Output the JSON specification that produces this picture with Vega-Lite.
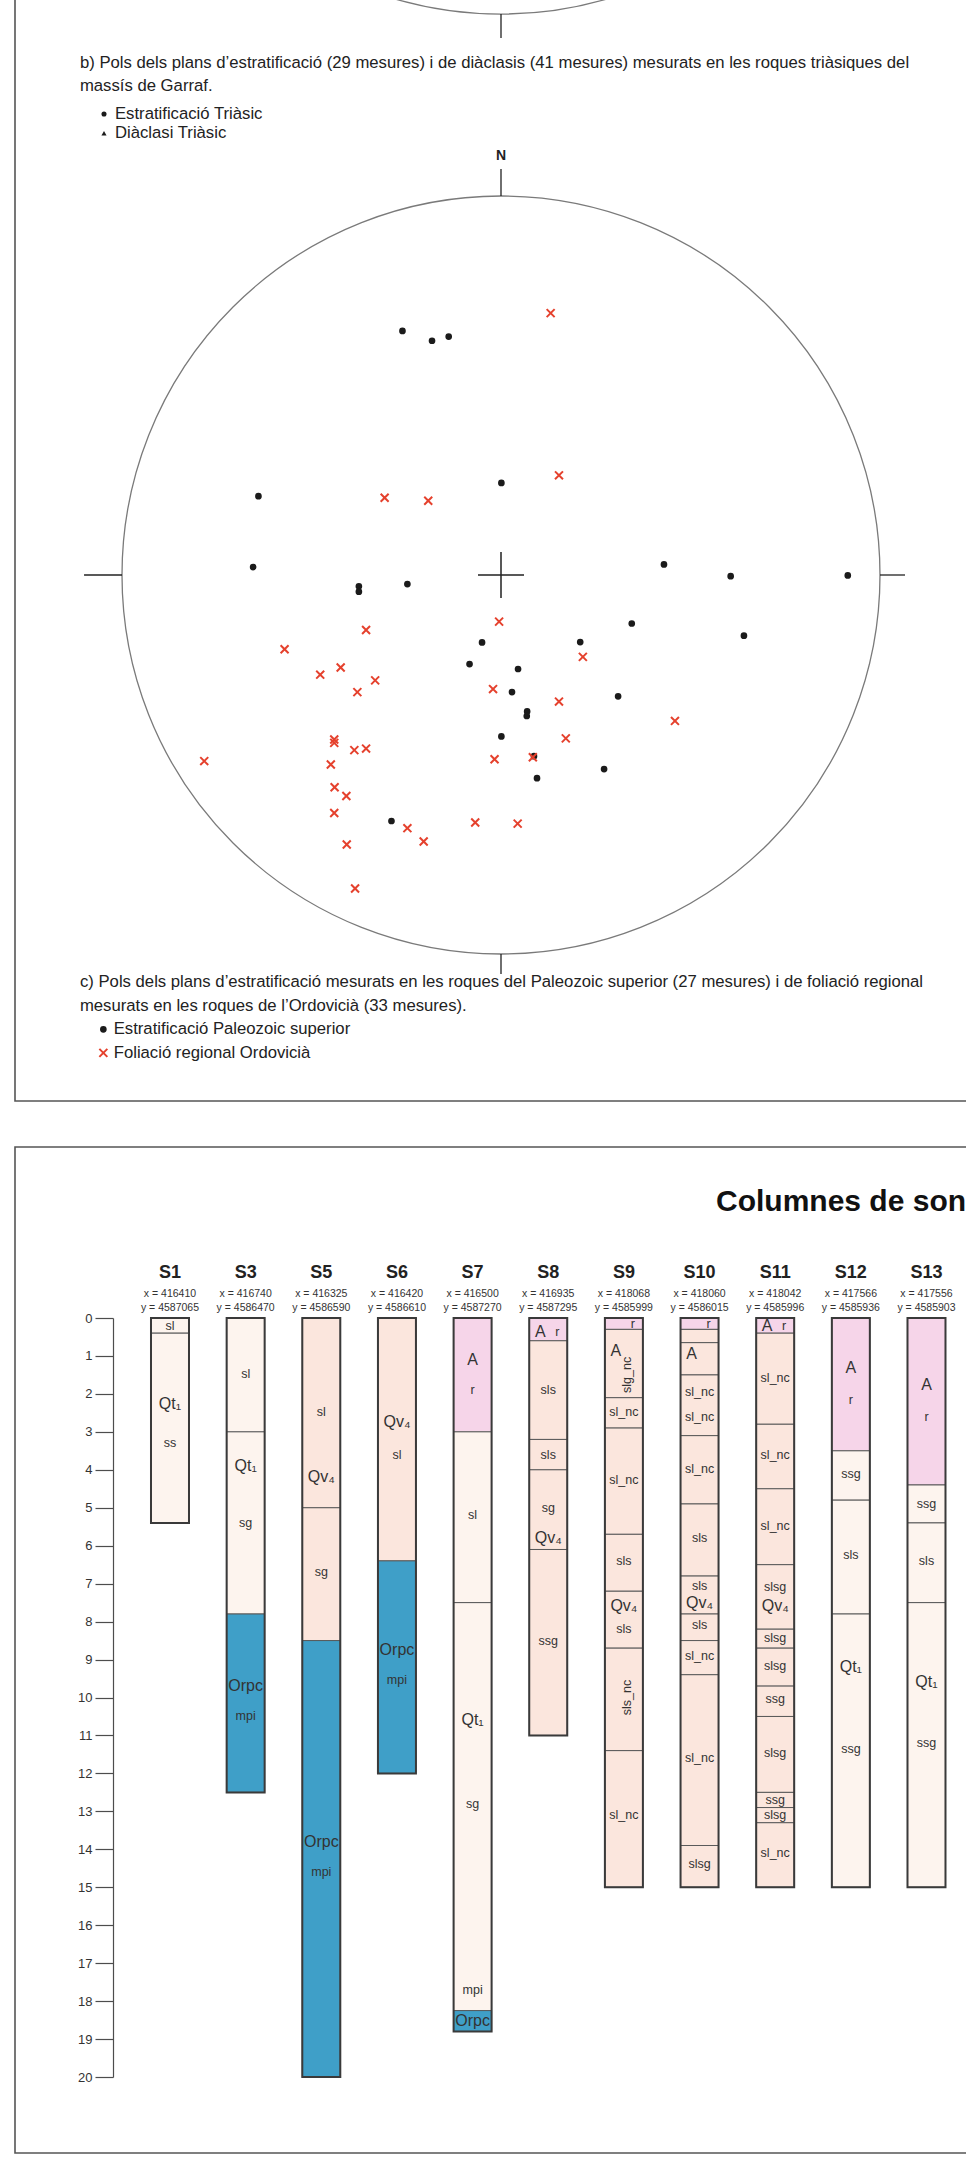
{
"$schema": "https://vega.github.io/schema/vega-lite/v6.json",
"background": "white",
"padding": {"left": 14, "top": -60, "right": -48, "bottom": 9},
"autosize": {"type": "pad"},
"spacing": 46,
"bounds": "flush",
"config": {"font": "Liberation Sans", "view": {"stroke": "#555555", "strokeWidth": 1.6}},
"datasets": {
"pols": [
{"x": -0.260, "y": 0.644, "t": "Estratificació Paleozoic superior"},
{"x": -0.182, "y": 0.618, "t": "Estratificació Paleozoic superior"},
{"x": -0.138, "y": 0.629, "t": "Estratificació Paleozoic superior"},
{"x": 0.001, "y": 0.243, "t": "Estratificació Paleozoic superior"},
{"x": -0.640, "y": 0.208, "t": "Estratificació Paleozoic superior"},
{"x": -0.654, "y": 0.021, "t": "Estratificació Paleozoic superior"},
{"x": -0.375, "y": -0.030, "t": "Estratificació Paleozoic superior"},
{"x": -0.375, "y": -0.044, "t": "Estratificació Paleozoic superior"},
{"x": -0.247, "y": -0.024, "t": "Estratificació Paleozoic superior"},
{"x": 0.430, "y": 0.028, "t": "Estratificació Paleozoic superior"},
{"x": 0.606, "y": -0.003, "t": "Estratificació Paleozoic superior"},
{"x": 0.915, "y": -0.001, "t": "Estratificació Paleozoic superior"},
{"x": 0.345, "y": -0.128, "t": "Estratificació Paleozoic superior"},
{"x": 0.641, "y": -0.160, "t": "Estratificació Paleozoic superior"},
{"x": -0.050, "y": -0.178, "t": "Estratificació Paleozoic superior"},
{"x": 0.209, "y": -0.177, "t": "Estratificació Paleozoic superior"},
{"x": -0.083, "y": -0.235, "t": "Estratificació Paleozoic superior"},
{"x": 0.045, "y": -0.248, "t": "Estratificació Paleozoic superior"},
{"x": 0.029, "y": -0.309, "t": "Estratificació Paleozoic superior"},
{"x": 0.309, "y": -0.320, "t": "Estratificació Paleozoic superior"},
{"x": 0.069, "y": -0.360, "t": "Estratificació Paleozoic superior"},
{"x": 0.068, "y": -0.372, "t": "Estratificació Paleozoic superior"},
{"x": 0.001, "y": -0.426, "t": "Estratificació Paleozoic superior"},
{"x": 0.087, "y": -0.478, "t": "Estratificació Paleozoic superior"},
{"x": 0.272, "y": -0.512, "t": "Estratificació Paleozoic superior"},
{"x": 0.095, "y": -0.536, "t": "Estratificació Paleozoic superior"},
{"x": -0.289, "y": -0.649, "t": "Estratificació Paleozoic superior"},
{"x": 0.131, "y": 0.691, "t": "Foliació regional Ordovicià"},
{"x": 0.153, "y": 0.263, "t": "Foliació regional Ordovicià"},
{"x": -0.307, "y": 0.204, "t": "Foliació regional Ordovicià"},
{"x": -0.192, "y": 0.196, "t": "Foliació regional Ordovicià"},
{"x": -0.005, "y": -0.123, "t": "Foliació regional Ordovicià"},
{"x": -0.356, "y": -0.145, "t": "Foliació regional Ordovicià"},
{"x": -0.571, "y": -0.196, "t": "Foliació regional Ordovicià"},
{"x": 0.216, "y": -0.216, "t": "Foliació regional Ordovicià"},
{"x": -0.423, "y": -0.244, "t": "Foliació regional Ordovicià"},
{"x": -0.477, "y": -0.263, "t": "Foliació regional Ordovicià"},
{"x": -0.332, "y": -0.278, "t": "Foliació regional Ordovicià"},
{"x": -0.379, "y": -0.309, "t": "Foliació regional Ordovicià"},
{"x": -0.021, "y": -0.301, "t": "Foliació regional Ordovicià"},
{"x": 0.153, "y": -0.334, "t": "Foliació regional Ordovicià"},
{"x": 0.459, "y": -0.385, "t": "Foliació regional Ordovicià"},
{"x": -0.440, "y": -0.434, "t": "Foliació regional Ordovicià"},
{"x": -0.440, "y": -0.443, "t": "Foliació regional Ordovicià"},
{"x": 0.171, "y": -0.431, "t": "Foliació regional Ordovicià"},
{"x": -0.387, "y": -0.462, "t": "Foliació regional Ordovicià"},
{"x": -0.356, "y": -0.458, "t": "Foliació regional Ordovicià"},
{"x": -0.017, "y": -0.486, "t": "Foliació regional Ordovicià"},
{"x": 0.084, "y": -0.481, "t": "Foliació regional Ordovicià"},
{"x": -0.783, "y": -0.491, "t": "Foliació regional Ordovicià"},
{"x": -0.449, "y": -0.500, "t": "Foliació regional Ordovicià"},
{"x": -0.439, "y": -0.560, "t": "Foliació regional Ordovicià"},
{"x": -0.408, "y": -0.583, "t": "Foliació regional Ordovicià"},
{"x": -0.440, "y": -0.628, "t": "Foliació regional Ordovicià"},
{"x": -0.068, "y": -0.653, "t": "Foliació regional Ordovicià"},
{"x": 0.044, "y": -0.656, "t": "Foliació regional Ordovicià"},
{"x": -0.247, "y": -0.668, "t": "Foliació regional Ordovicià"},
{"x": -0.204, "y": -0.703, "t": "Foliació regional Ordovicià"},
{"x": -0.407, "y": -0.711, "t": "Foliació regional Ordovicià"},
{"x": -0.385, "y": -0.827, "t": "Foliació regional Ordovicià"}
],
"capes": [
{"s": "S1", "top": 0, "base": 0.4, "u": "Qt1"},
{"s": "S1", "top": 0.4, "base": 5.4, "u": "Qt1"},
{"s": "S3", "top": 0, "base": 3, "u": "Qt1"},
{"s": "S3", "top": 3, "base": 7.8, "u": "Qt1"},
{"s": "S3", "top": 7.8, "base": 12.5, "u": "Orpc"},
{"s": "S5", "top": 0, "base": 5, "u": "Qv4"},
{"s": "S5", "top": 5, "base": 8.5, "u": "Qv4"},
{"s": "S5", "top": 8.5, "base": 20, "u": "Orpc"},
{"s": "S6", "top": 0, "base": 6.4, "u": "Qv4"},
{"s": "S6", "top": 6.4, "base": 12, "u": "Orpc"},
{"s": "S7", "top": 0, "base": 3, "u": "A"},
{"s": "S7", "top": 3, "base": 7.5, "u": "Qt1"},
{"s": "S7", "top": 7.5, "base": 18.25, "u": "Qt1"},
{"s": "S7", "top": 18.25, "base": 18.8, "u": "Orpc"},
{"s": "S8", "top": 0, "base": 0.6, "u": "A"},
{"s": "S8", "top": 0.6, "base": 3.2, "u": "Qv4"},
{"s": "S8", "top": 3.2, "base": 4.0, "u": "Qv4"},
{"s": "S8", "top": 4.0, "base": 6.1, "u": "Qv4"},
{"s": "S8", "top": 6.1, "base": 11, "u": "Qv4"},
{"s": "S9", "top": 0, "base": 0.3, "u": "A"},
{"s": "S9", "top": 0.3, "base": 2.1, "u": "Qv4"},
{"s": "S9", "top": 2.1, "base": 2.9, "u": "Qv4"},
{"s": "S9", "top": 2.9, "base": 5.7, "u": "Qv4"},
{"s": "S9", "top": 5.7, "base": 7.2, "u": "Qv4"},
{"s": "S9", "top": 7.2, "base": 8.7, "u": "Qv4"},
{"s": "S9", "top": 8.7, "base": 11.4, "u": "Qv4"},
{"s": "S9", "top": 11.4, "base": 15, "u": "Qv4"},
{"s": "S10", "top": 0, "base": 0.3, "u": "A"},
{"s": "S10", "top": 0.3, "base": 0.65, "u": "Qv4"},
{"s": "S10", "top": 0.65, "base": 1.5, "u": "Qv4"},
{"s": "S10", "top": 1.5, "base": 3.1, "u": "Qv4"},
{"s": "S10", "top": 3.1, "base": 4.9, "u": "Qv4"},
{"s": "S10", "top": 4.9, "base": 6.8, "u": "Qv4"},
{"s": "S10", "top": 6.8, "base": 7.8, "u": "Qv4"},
{"s": "S10", "top": 7.8, "base": 8.5, "u": "Qv4"},
{"s": "S10", "top": 8.5, "base": 9.4, "u": "Qv4"},
{"s": "S10", "top": 9.4, "base": 13.9, "u": "Qv4"},
{"s": "S10", "top": 13.9, "base": 15, "u": "Qv4"},
{"s": "S11", "top": 0, "base": 0.4, "u": "A"},
{"s": "S11", "top": 0.4, "base": 2.8, "u": "Qv4"},
{"s": "S11", "top": 2.8, "base": 4.5, "u": "Qv4"},
{"s": "S11", "top": 4.5, "base": 6.5, "u": "Qv4"},
{"s": "S11", "top": 6.5, "base": 8.2, "u": "Qv4"},
{"s": "S11", "top": 8.2, "base": 8.7, "u": "Qv4"},
{"s": "S11", "top": 8.7, "base": 9.7, "u": "Qv4"},
{"s": "S11", "top": 9.7, "base": 10.5, "u": "Qv4"},
{"s": "S11", "top": 10.5, "base": 12.5, "u": "Qv4"},
{"s": "S11", "top": 12.5, "base": 12.9, "u": "Qv4"},
{"s": "S11", "top": 12.9, "base": 13.3, "u": "Qv4"},
{"s": "S11", "top": 13.3, "base": 15, "u": "Qv4"},
{"s": "S12", "top": 0, "base": 3.5, "u": "A"},
{"s": "S12", "top": 3.5, "base": 4.8, "u": "Qt1"},
{"s": "S12", "top": 4.8, "base": 7.8, "u": "Qt1"},
{"s": "S12", "top": 7.8, "base": 15, "u": "Qt1"},
{"s": "S13", "top": 0, "base": 4.4, "u": "A"},
{"s": "S13", "top": 4.4, "base": 5.4, "u": "Qt1"},
{"s": "S13", "top": 5.4, "base": 7.5, "u": "Qt1"},
{"s": "S13", "top": 7.5, "base": 15, "u": "Qt1"}
],
"sondeigs": [
{"s": "S1", "inici": 0, "fondaria": 5.4, "cx": "x = 416410", "cy": "y = 4587065"},
{"s": "S3", "inici": 0, "fondaria": 12.5, "cx": "x = 416740", "cy": "y = 4586470"},
{"s": "S5", "inici": 0, "fondaria": 20, "cx": "x = 416325", "cy": "y = 4586590"},
{"s": "S6", "inici": 0, "fondaria": 12, "cx": "x = 416420", "cy": "y = 4586610"},
{"s": "S7", "inici": 0, "fondaria": 18.8, "cx": "x = 416500", "cy": "y = 4587270"},
{"s": "S8", "inici": 0, "fondaria": 11, "cx": "x = 416935", "cy": "y = 4587295"},
{"s": "S9", "inici": 0, "fondaria": 15, "cx": "x = 418068", "cy": "y = 4585999"},
{"s": "S10", "inici": 0, "fondaria": 15, "cx": "x = 418060", "cy": "y = 4586015"},
{"s": "S11", "inici": 0, "fondaria": 15, "cx": "x = 418042", "cy": "y = 4585996"},
{"s": "S12", "inici": 0, "fondaria": 15, "cx": "x = 417566", "cy": "y = 4585936"},
{"s": "S13", "inici": 0, "fondaria": 15, "cx": "x = 417556", "cy": "y = 4585903"}
],
"etiquetes": [
{"s": "S1", "d": 0.2, "t": "sl", "k": "p"},
{"s": "S1", "d": 2.27, "t": "Qt₁", "k": "g"},
{"s": "S1", "d": 3.3, "t": "ss", "k": "p"},
{"s": "S3", "d": 1.48, "t": "sl", "k": "p"},
{"s": "S3", "d": 3.9, "t": "Qt₁", "k": "g"},
{"s": "S3", "d": 5.4, "t": "sg", "k": "p"},
{"s": "S3", "d": 9.7, "t": "Orpc", "k": "g"},
{"s": "S3", "d": 10.5, "t": "mpi", "k": "p"},
{"s": "S5", "d": 2.48, "t": "sl", "k": "p"},
{"s": "S5", "d": 4.2, "t": "Qv₄", "k": "g"},
{"s": "S5", "d": 6.7, "t": "sg", "k": "p"},
{"s": "S5", "d": 13.8, "t": "Orpc", "k": "g"},
{"s": "S5", "d": 14.6, "t": "mpi", "k": "p"},
{"s": "S6", "d": 2.75, "t": "Qv₄", "k": "g"},
{"s": "S6", "d": 3.6, "t": "sl", "k": "p"},
{"s": "S6", "d": 8.75, "t": "Orpc", "k": "g"},
{"s": "S6", "d": 9.55, "t": "mpi", "k": "p"},
{"s": "S7", "d": 1.1, "t": "A", "k": "g"},
{"s": "S7", "d": 1.9, "t": "r", "k": "p"},
{"s": "S7", "d": 5.2, "t": "sl", "k": "p"},
{"s": "S7", "d": 10.6, "t": "Qt₁", "k": "g"},
{"s": "S7", "d": 12.8, "t": "sg", "k": "p"},
{"s": "S7", "d": 17.7, "t": "mpi", "k": "p"},
{"s": "S7", "d": 18.52, "t": "Orpc", "k": "g"},
{"s": "S8", "d": 0.36, "t": "A", "k": "gl"},
{"s": "S8", "d": 0.36, "t": "r", "k": "pr"},
{"s": "S8", "d": 1.9, "t": "sls", "k": "p"},
{"s": "S8", "d": 3.6, "t": "sls", "k": "p"},
{"s": "S8", "d": 5.0, "t": "sg", "k": "p"},
{"s": "S8", "d": 5.8, "t": "Qv₄", "k": "g"},
{"s": "S8", "d": 8.5, "t": "ssg", "k": "p"},
{"s": "S9", "d": 0.15, "t": "r", "k": "pr"},
{"s": "S9", "d": 0.87, "t": "A", "k": "gl"},
{"s": "S9", "d": 1.5, "t": "slg_nc", "k": "v"},
{"s": "S9", "d": 2.48, "t": "sl_nc", "k": "p"},
{"s": "S9", "d": 4.27, "t": "sl_nc", "k": "p"},
{"s": "S9", "d": 6.4, "t": "sls", "k": "p"},
{"s": "S9", "d": 7.6, "t": "Qv₄", "k": "g"},
{"s": "S9", "d": 8.2, "t": "sls", "k": "p"},
{"s": "S9", "d": 10.0, "t": "sls_nc", "k": "v"},
{"s": "S9", "d": 13.1, "t": "sl_nc", "k": "p"},
{"s": "S10", "d": 0.15, "t": "r", "k": "pr"},
{"s": "S10", "d": 0.95, "t": "A", "k": "gl"},
{"s": "S10", "d": 1.95, "t": "sl_nc", "k": "p"},
{"s": "S10", "d": 2.6, "t": "sl_nc", "k": "p"},
{"s": "S10", "d": 3.98, "t": "sl_nc", "k": "p"},
{"s": "S10", "d": 5.8, "t": "sls", "k": "p"},
{"s": "S10", "d": 7.07, "t": "sls", "k": "p"},
{"s": "S10", "d": 7.5, "t": "Qv₄", "k": "g"},
{"s": "S10", "d": 8.1, "t": "sls", "k": "p"},
{"s": "S10", "d": 8.9, "t": "sl_nc", "k": "p"},
{"s": "S10", "d": 11.6, "t": "sl_nc", "k": "p"},
{"s": "S10", "d": 14.4, "t": "slsg", "k": "p"},
{"s": "S11", "d": 0.22, "t": "A", "k": "gl"},
{"s": "S11", "d": 0.22, "t": "r", "k": "pr"},
{"s": "S11", "d": 1.57, "t": "sl_nc", "k": "p"},
{"s": "S11", "d": 3.6, "t": "sl_nc", "k": "p"},
{"s": "S11", "d": 5.47, "t": "sl_nc", "k": "p"},
{"s": "S11", "d": 7.1, "t": "slsg", "k": "p"},
{"s": "S11", "d": 7.6, "t": "Qv₄", "k": "g"},
{"s": "S11", "d": 8.43, "t": "slsg", "k": "p"},
{"s": "S11", "d": 9.16, "t": "slsg", "k": "p"},
{"s": "S11", "d": 10.05, "t": "ssg", "k": "p"},
{"s": "S11", "d": 11.45, "t": "slsg", "k": "p"},
{"s": "S11", "d": 12.7, "t": "ssg", "k": "p"},
{"s": "S11", "d": 13.1, "t": "slsg", "k": "p"},
{"s": "S11", "d": 14.1, "t": "sl_nc", "k": "p"},
{"s": "S12", "d": 1.33, "t": "A", "k": "g"},
{"s": "S12", "d": 2.15, "t": "r", "k": "p"},
{"s": "S12", "d": 4.1, "t": "ssg", "k": "p"},
{"s": "S12", "d": 6.25, "t": "sls", "k": "p"},
{"s": "S12", "d": 9.2, "t": "Qt₁", "k": "g"},
{"s": "S12", "d": 11.35, "t": "ssg", "k": "p"},
{"s": "S13", "d": 1.77, "t": "A", "k": "g"},
{"s": "S13", "d": 2.6, "t": "r", "k": "p"},
{"s": "S13", "d": 4.9, "t": "ssg", "k": "p"},
{"s": "S13", "d": 6.4, "t": "sls", "k": "p"},
{"s": "S13", "d": 9.6, "t": "Qt₁", "k": "g"},
{"s": "S13", "d": 11.2, "t": "ssg", "k": "p"}
]
},
"vconcat": [
{
"width": 1000,
"height": 1160,
"layer": [
{"data": {"values": [{}]}, "mark": {"type": "point", "shape": "circle", "size": 574564, "filled": false, "stroke": "#7a7a7a", "strokeWidth": 1.3, "opacity": 1, "clip": true},
 "encoding": {"x": {"datum": 0, "type": "quantitative", "scale": {"domain": [-1, 1], "range": [107, 865], "nice": false, "zero": false}, "axis": null},
              "y": {"datum": 2.48, "type": "quantitative", "scale": {"domain": [-1, 1], "range": [1013, 255], "nice": false, "zero": false}, "axis": null}}},
{"data": {"values": [{}]}, "mark": {"type": "point", "shape": "circle", "size": 574564, "filled": false, "stroke": "#7a7a7a", "strokeWidth": 1.3, "opacity": 1},
 "encoding": {"x": {"datum": 0, "type": "quantitative"}, "y": {"datum": 0, "type": "quantitative"}}},
{"data": {"values": [{}]}, "mark": {"type": "point", "shape": "M0,-1L0,1", "size": 576, "filled": false, "stroke": "#222222", "strokeWidth": 1.3, "opacity": 1},
 "encoding": {"x": {"datum": 0, "type": "quantitative"}, "y": {"datum": 1.4485, "type": "quantitative"}}},
{"data": {"values": [{}]}, "mark": {"type": "point", "shape": "M0,-1L0,1", "size": 729, "filled": false, "stroke": "#222222", "strokeWidth": 1.3, "opacity": 1},
 "encoding": {"x": {"datum": 0, "type": "quantitative"}, "y": {"datum": 1.0356, "type": "quantitative"}}},
{"data": {"values": [{}]}, "mark": {"type": "point", "shape": "M0,-1L0,1", "size": 400, "filled": false, "stroke": "#222222", "strokeWidth": 1.3, "opacity": 1},
 "encoding": {"x": {"datum": 0, "type": "quantitative"}, "y": {"datum": -1.0264, "type": "quantitative"}}},
{"data": {"values": [{}]}, "mark": {"type": "point", "shape": "M-1,0L1,0", "size": 1444, "filled": false, "stroke": "#222222", "strokeWidth": 1.3, "opacity": 1},
 "encoding": {"x": {"datum": -1.05, "type": "quantitative"}, "y": {"datum": 0, "type": "quantitative"}}},
{"data": {"values": [{}]}, "mark": {"type": "point", "shape": "M-1,0L1,0", "size": 625, "filled": false, "stroke": "#222222", "strokeWidth": 1.3, "opacity": 1},
 "encoding": {"x": {"datum": 1.033, "type": "quantitative"}, "y": {"datum": 0, "type": "quantitative"}}},
{"data": {"values": [{}]}, "mark": {"type": "point", "shape": "M-1,0L1,0M0,-1L0,1", "size": 2116, "filled": false, "stroke": "#222222", "strokeWidth": 1.5, "opacity": 1},
 "encoding": {"x": {"datum": 0, "type": "quantitative"}, "y": {"datum": 0, "type": "quantitative"}}},
{"data": {"name": "pols"}, "mark": {"type": "point", "opacity": 1, "strokeWidth": 2, "size": 22},
 "encoding": {
  "x": {"field": "x", "type": "quantitative"},
  "y": {"field": "y", "type": "quantitative"},
  "shape": {"field": "t", "type": "nominal", "scale": {"domain": ["Estratificació Paleozoic superior", "Foliació regional Ordovicià"], "range": ["circle", "M-1.7,-1.7L1.7,1.7M-1.7,1.7L1.7,-1.7"]},
            "legend": {"title": null, "orient": "none", "legendX": 80, "legendY": 1080, "padding": 0, "rowPadding": 5.5, "labelOffset": 2, "labelLimit": 0, "labelFontSize": 16.7, "labelFont": "Liberation Sans", "labelColor": "#222222", "symbolStrokeWidth": 2, "symbolSize": 22}},
  "fill": {"field": "t", "type": "nominal", "scale": {"domain": ["Estratificació Paleozoic superior", "Foliació regional Ordovicià"], "range": ["#1b1b1b", "transparent"]},
            "legend": {"title": null, "orient": "none", "legendX": 80, "legendY": 1080, "padding": 0, "rowPadding": 5.5, "labelOffset": 2, "labelLimit": 0, "labelFontSize": 16.7, "labelFont": "Liberation Sans", "labelColor": "#222222", "symbolStrokeWidth": 2, "symbolSize": 22}},
  "stroke": {"field": "t", "type": "nominal", "scale": {"domain": ["Estratificació Paleozoic superior", "Foliació regional Ordovicià"], "range": ["#1b1b1b", "#e5412d"]},
            "legend": {"title": null, "orient": "none", "legendX": 80, "legendY": 1080, "padding": 0, "rowPadding": 5.5, "labelOffset": 2, "labelLimit": 0, "labelFontSize": 16.7, "labelFont": "Liberation Sans", "labelColor": "#222222", "symbolStrokeWidth": 2, "symbolSize": 22}}
 }},
{"data": {"values": [{}]}, "mark": {"type": "text", "align": "left", "baseline": "middle", "fontSize": 16.7, "color": "#222222", "text": "b) Pols dels plans d’estratificació (29 mesures) i de diàclasis (41 mesures) mesurats en les roques triàsiques del"},
 "encoding": {"x": {"datum": -1.111, "type": "quantitative"}, "y": {"datum": 1.351, "type": "quantitative"}}},
{"data": {"values": [{}]}, "mark": {"type": "text", "align": "left", "baseline": "middle", "fontSize": 16.7, "color": "#222222", "text": "massís de Garraf."},
 "encoding": {"x": {"datum": -1.111, "type": "quantitative"}, "y": {"datum": 1.2892, "type": "quantitative"}}},
{"data": {"values": [{}]}, "mark": {"type": "point", "shape": "circle", "size": 26, "filled": true, "color": "#1b1b1b", "opacity": 1},
 "encoding": {"x": {"datum": -1.0475, "type": "quantitative"}, "y": {"datum": 1.2164, "type": "quantitative"}}},
{"data": {"values": [{}]}, "mark": {"type": "point", "shape": "triangle-up", "size": 26, "filled": true, "color": "#1b1b1b", "opacity": 1},
 "encoding": {"x": {"datum": -1.0475, "type": "quantitative"}, "y": {"datum": 1.1654, "type": "quantitative"}}},
{"data": {"values": [{}]}, "mark": {"type": "text", "align": "left", "baseline": "middle", "fontSize": 16.7, "color": "#222222", "text": "Estratificació Triàsic"},
 "encoding": {"x": {"datum": -1.0185, "type": "quantitative"}, "y": {"datum": 1.2164, "type": "quantitative"}}},
{"data": {"values": [{}]}, "mark": {"type": "text", "align": "left", "baseline": "middle", "fontSize": 16.7, "color": "#222222", "text": "Diàclasi Triàsic"},
 "encoding": {"x": {"datum": -1.0185, "type": "quantitative"}, "y": {"datum": 1.1654, "type": "quantitative"}}},
{"data": {"values": [{}]}, "mark": {"type": "text", "align": "center", "baseline": "middle", "fontSize": 14, "fontWeight": "bold", "color": "#222222", "text": "N"},
 "encoding": {"x": {"datum": 0, "type": "quantitative"}, "y": {"datum": 1.1055, "type": "quantitative"}}},
{"data": {"values": [{}]}, "mark": {"type": "text", "align": "left", "baseline": "middle", "fontSize": 16.7, "color": "#222222", "text": "c) Pols dels plans d’estratificació mesurats en les roques del Paleozoic superior (27 mesures) i de foliació regional"},
 "encoding": {"x": {"datum": -1.111, "type": "quantitative"}, "y": {"datum": -1.0739, "type": "quantitative"}}},
{"data": {"values": [{}]}, "mark": {"type": "text", "align": "left", "baseline": "middle", "fontSize": 16.7, "color": "#222222", "text": "mesurats en les roques de l’Ordovicià (33 mesures)."},
 "encoding": {"x": {"datum": -1.111, "type": "quantitative"}, "y": {"datum": -1.1362, "type": "quantitative"}}}
]
},
{
"width": 1000,
"height": 1006,
"title": {"text": "Columnes de sondeigs", "anchor": "start", "frame": "group", "dx": 701, "offset": -70, "fontSize": 30, "font": "Liberation Sans", "fontWeight": "bold", "color": "#111111"},
"layer": [
{"data": {"name": "capes"}, "mark": {"type": "bar", "stroke": "#5a5a5a", "strokeWidth": 1, "opacity": 1},
 "encoding": {
  "x": {"field": "s", "type": "nominal", "scale": {"type": "band", "domain": ["S1", "S3", "S5", "S6", "S7", "S8", "S9", "S10", "S11", "S12", "S13"], "range": [117.17, 949.32], "paddingInner": 0.4977, "paddingOuter": 0.24885}, "axis": null},
  "y": {"field": "top", "type": "quantitative", "scale": {"domain": [0, 20], "range": [171, 930], "nice": false, "zero": false},
        "axis": {"values": [0,1,2,3,4,5,6,7,8,9,10,11,12,13,14,15,16,17,18,19,20], "offset": -98, "tickSize": 18, "labelPadding": 3, "title": null, "grid": false, "domainColor": "#4d4d4d", "tickColor": "#4d4d4d", "domainWidth": 1.2, "tickWidth": 1.2, "labelFontSize": 13, "labelFont": "Liberation Sans", "labelColor": "#333333"}},
  "y2": {"field": "base"},
  "color": {"field": "u", "type": "nominal", "scale": {"domain": ["A", "Qt1", "Qv4", "Orpc"], "range": ["#f6d5e9", "#fdf4ee", "#fbe6dd", "#3f9fc8"]}, "legend": null}
 }},
{"data": {"name": "sondeigs"}, "mark": {"type": "bar", "fillOpacity": 0, "stroke": "#3a3a3a", "strokeWidth": 2},
 "encoding": {"x": {"field": "s", "type": "nominal"}, "y": {"field": "inici", "type": "quantitative"}, "y2": {"field": "fondaria"}}},
{"data": {"name": "sondeigs"}, "mark": {"type": "text", "baseline": "middle", "fontSize": 18, "fontWeight": "bold", "color": "#222222", "dy": -45},
 "encoding": {"x": {"field": "s", "type": "nominal"}, "y": {"field": "inici", "type": "quantitative"}, "text": {"field": "s", "type": "nominal"}}},
{"data": {"name": "sondeigs"}, "mark": {"type": "text", "baseline": "middle", "fontSize": 10.5, "color": "#333333", "dy": -24},
 "encoding": {"x": {"field": "s", "type": "nominal"}, "y": {"field": "inici", "type": "quantitative"}, "text": {"field": "cx", "type": "nominal"}}},
{"data": {"name": "sondeigs"}, "mark": {"type": "text", "baseline": "middle", "fontSize": 10.5, "color": "#333333", "dy": -10},
 "encoding": {"x": {"field": "s", "type": "nominal"}, "y": {"field": "inici", "type": "quantitative"}, "text": {"field": "cy", "type": "nominal"}}},
{"data": {"name": "etiquetes"}, "transform": [{"filter": "datum.k == 'g'"}], "mark": {"type": "text", "baseline": "middle", "fontSize": 16, "color": "#333333"},
 "encoding": {"x": {"field": "s", "type": "nominal"}, "y": {"field": "d", "type": "quantitative"}, "text": {"field": "t", "type": "nominal"}}},
{"data": {"name": "etiquetes"}, "transform": [{"filter": "datum.k == 'p'"}], "mark": {"type": "text", "baseline": "middle", "fontSize": 12.5, "color": "#333333"},
 "encoding": {"x": {"field": "s", "type": "nominal"}, "y": {"field": "d", "type": "quantitative"}, "text": {"field": "t", "type": "nominal"}}},
{"data": {"name": "etiquetes"}, "transform": [{"filter": "datum.k == 'gl'"}], "mark": {"type": "text", "baseline": "middle", "fontSize": 16, "color": "#333333", "dx": -8},
 "encoding": {"x": {"field": "s", "type": "nominal"}, "y": {"field": "d", "type": "quantitative"}, "text": {"field": "t", "type": "nominal"}}},
{"data": {"name": "etiquetes"}, "transform": [{"filter": "datum.k == 'pr'"}], "mark": {"type": "text", "baseline": "middle", "fontSize": 12.5, "color": "#333333", "dx": 9},
 "encoding": {"x": {"field": "s", "type": "nominal"}, "y": {"field": "d", "type": "quantitative"}, "text": {"field": "t", "type": "nominal"}}},
{"data": {"name": "etiquetes"}, "transform": [{"filter": "datum.k == 'v'"}], "mark": {"type": "text", "baseline": "middle", "fontSize": 12.5, "color": "#333333", "angle": 270, "dy": 3},
 "encoding": {"x": {"field": "s", "type": "nominal"}, "y": {"field": "d", "type": "quantitative"}, "text": {"field": "t", "type": "nominal"}}}
]
}
]
}
